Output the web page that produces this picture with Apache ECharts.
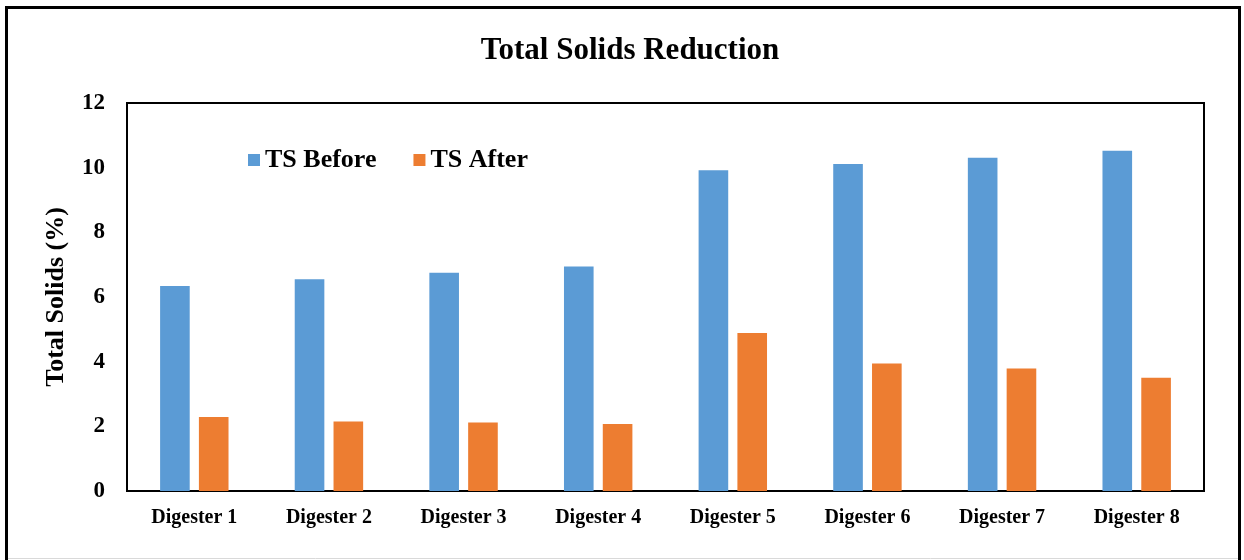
<!DOCTYPE html>
<html>
<head>
<meta charset="utf-8">
<style>
  html, body { margin: 0; padding: 0; background: #fff; }
  #chart { width: 1244px; height: 560px; }
</style>
<script src="https://cdn.jsdelivr.net/npm/echarts@6/dist/echarts.min.js"></script>
</head>
<body>
<div id="chart"></div>
<script>
// Total solids (%) for each digester, before and after digestion
const categories = ['Digester 1', 'Digester 2', 'Digester 3', 'Digester 4',
                    'Digester 5', 'Digester 6', 'Digester 7', 'Digester 8'];
const tsBefore = [6.34, 6.55, 6.75, 6.94, 9.92, 10.11, 10.31, 10.52];
const tsAfter  = [2.29, 2.15, 2.12, 2.07, 4.89, 3.94, 3.79, 3.50];
const seriesNames = ['TS Before', 'TS After'];

const serif = '"Liberation Serif", "Times New Roman", serif';
const chart = echarts.init(document.getElementById('chart'), null, { renderer: 'canvas' });

chart.setOption({
  animation: false,
  backgroundColor: '#ffffff',
  color: ['#5B9BD5', '#ED7D31'],
  title: {
    text: 'Total Solids Reduction',
    left: 625,
    textAlign: 'center',
    top: 30,
    textStyle: { fontFamily: serif, fontWeight: 'bold', fontSize: 31, color: '#000' }
  },
  legend: {
    data: seriesNames,
    left: 243,
    top: 142,
    itemWidth: 12,
    itemHeight: 12,
    itemGap: 37,
    icon: 'rect',
    textStyle: { fontFamily: serif, fontWeight: 'bold', fontSize: 26, color: '#000' }
  },
  grid: {
    left: 127, right: 40, top: 103, bottom: 69,
    show: true, borderColor: '#000', borderWidth: 2, backgroundColor: 'transparent'
  },
  xAxis: {
    type: 'category',
    data: categories,
    axisLine: { lineStyle: { color: '#000', width: 2 } },
    axisTick: { show: false },
    axisLabel: { fontFamily: serif, fontWeight: 'bold', fontSize: 20, color: '#000', margin: 17 }
  },
  yAxis: {
    type: 'value',
    min: 0, max: 12, interval: 2,
    name: 'Total Solids (%)',
    nameLocation: 'middle',
    nameGap: 58,
    nameTextStyle: { fontFamily: serif, fontWeight: 'bold', fontSize: 26, color: '#000' },
    axisLine: { show: true, lineStyle: { color: '#000', width: 2 } },
    axisTick: { show: false },
    splitLine: { show: false },
    axisLabel: { fontFamily: serif, fontWeight: 'bold', fontSize: 23, color: '#000', margin: 22 }
  },
  series: [
    { name: seriesNames[0], type: 'bar', data: tsBefore, barWidth: '22%', barGap: '31%' },
    { name: seriesNames[1], type: 'bar', data: tsAfter, barWidth: '22%', barGap: '31%' }
  ],
  graphic: [
    {
      type: 'rect',
      shape: { x: 6.5, y: 7.5, width: 1233, height: 600 },
      style: { fill: 'none', stroke: '#000', lineWidth: 3 },
      silent: true
    },
    {
      type: 'line',
      shape: { x1: 8, y1: 558.5, x2: 1238, y2: 558.5 },
      style: { stroke: '#d9d9d9', lineWidth: 1 },
      silent: true
    }
  ]
});
</script>
</body>
</html>
